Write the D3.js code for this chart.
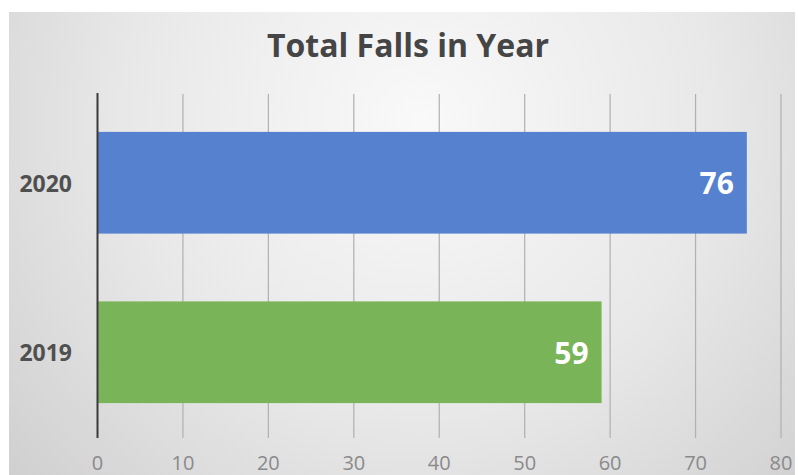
<!DOCTYPE html>
<html>
<head>
<meta charset="utf-8">
<script src="https://cdn.jsdelivr.net/npm/d3@7"></script>
<style>
  html, body { margin: 0; padding: 0; background: #ffffff; }
  svg { display: block; }
</style>
</head>
<body>
<svg id="chart" width="798" height="475"></svg>
<script>
// Chart data
const categories = ["2020", "2019"];
const values = [76, 59];
const barColors = ["#5581cf", "#79b558"];
const xTicks = [0, 10, 20, 30, 40, 50, 60, 70, 80];
const title = "Total Falls in Year";

const svg = d3.select("#chart");
const W = 798, H = 475;

// Soft radial backdrop of the chart panel
const defs = svg.append("defs");
const grad = defs.append("radialGradient")
  .attr("id", "bg")
  .attr("gradientUnits", "userSpaceOnUse")
  .attr("cx", 420).attr("cy", 120).attr("r", 540);
grad.append("stop").attr("offset", "0%").attr("stop-color", "#f9f9f9");
grad.append("stop").attr("offset", "55%").attr("stop-color", "#e8e8e8");
grad.append("stop").attr("offset", "100%").attr("stop-color", "#d0d0d0");

svg.append("rect")
  .attr("x", 9).attr("y", 12)
  .attr("width", W - 12).attr("height", H - 12)
  .attr("fill", "url(#bg)");

// Plot area
const plot = { left: 97.5, right: 781, top: 98, bottom: 437 };

const x = d3.scaleLinear()
  .domain([0, 80])
  .range([plot.left, plot.right]);

const y = d3.scaleBand()
  .domain(categories)
  .range([plot.top, plot.bottom])
  .paddingInner(0.4)
  .paddingOuter(0.2);

// Vertical gridlines
svg.append("g")
  .selectAll("line")
  .data(xTicks.slice(1))
  .join("line")
  .attr("x1", d => x(d)).attr("x2", d => x(d))
  .attr("y1", plot.top - 4).attr("y2", plot.bottom + 1)
  .attr("stroke", "#b0b0b0")
  .attr("stroke-width", 1.2);

// Bars
svg.append("g")
  .selectAll("rect")
  .data(categories)
  .join("rect")
  .attr("x", x(0))
  .attr("y", d => y(d))
  .attr("width", (d, i) => x(values[i]) - x(0))
  .attr("height", y.bandwidth())
  .attr("fill", (d, i) => barColors[i]);

// Category axis line
svg.append("line")
  .attr("x1", x(0)).attr("x2", x(0))
  .attr("y1", plot.top - 5).attr("y2", plot.bottom + 1)
  .attr("stroke", "#3a3a3a")
  .attr("stroke-width", 2);

// Value labels inside bar ends
svg.append("g")
  .selectAll("text")
  .data(categories)
  .join("text")
  .attr("x", (d, i) => x(values[i]) - 13)
  .attr("y", d => y(d) + y.bandwidth() / 2 + 1)
  .attr("dy", "0.35em")
  .attr("text-anchor", "end")
  .attr("font-family", "'Open Sans', 'DejaVu Sans', sans-serif")
  .attr("font-weight", "bold")
  .attr("font-size", 30)
  .attr("fill", "#ffffff")
  .text((d, i) => values[i]);

// Category labels
svg.append("g")
  .selectAll("text")
  .data(categories)
  .join("text")
  .attr("x", 72)
  .attr("y", d => y(d) + y.bandwidth() / 2 + 1)
  .attr("dy", "0.35em")
  .attr("text-anchor", "end")
  .attr("font-family", "'Open Sans', 'DejaVu Sans', sans-serif")
  .attr("font-weight", "bold")
  .attr("font-size", 23)
  .attr("fill", "#505050")
  .text(d => d);

// Value axis tick labels
svg.append("g")
  .selectAll("text")
  .data(xTicks)
  .join("text")
  .attr("x", d => x(d))
  .attr("y", 463)
  .attr("dy", "0.35em")
  .attr("text-anchor", "middle")
  .attr("font-family", "'Liberation Sans Narrow', 'Open Sans', sans-serif")
  .attr("font-size", 20)
  .attr("fill", "#8a8a8a")
  .text(d => d);

// Title
svg.append("text")
  .attr("x", 408)
  .attr("y", 57)
  .attr("text-anchor", "middle")
  .attr("font-family", "'Open Sans', 'DejaVu Sans', sans-serif")
  .attr("font-weight", "bold")
  .attr("font-size", 32)
  .attr("fill", "#454545")
  .text(title);
</script>
</body>
</html>
